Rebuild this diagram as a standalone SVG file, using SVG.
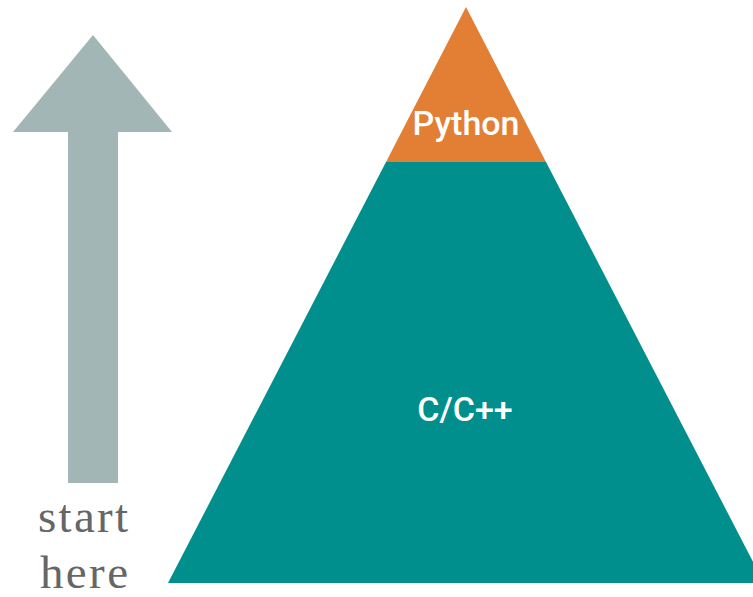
<svg xmlns="http://www.w3.org/2000/svg" width="753" height="597" viewBox="0 0 753 597">
<style>
.lbl{font-family:Roboto,"Liberation Sans",Arial,sans-serif;font-weight:500;fill:#ffffff;text-anchor:middle}
.side{font-family:"Liberation Serif","Times New Roman",serif;fill:#666666;font-size:47px}
</style>
<rect width="753" height="597" fill="#ffffff"/>
<g id="arrow">
<polygon points="93,35 172,132 118,132 118,483 68,483 68,132 13,132" fill="#a3b6b6"/>
</g>
<g id="cpp">
<polygon points="386,162 546,162 764,583 168,583" fill="#008f8c"/>
<text class="lbl" x="465" y="421" font-size="34">C/C++</text>
</g>
<g id="python">
<polygon points="466,7 546,162 386,162" fill="#e27f34"/>
<text class="lbl" x="466" y="135" font-size="34">Python</text>
</g>
<g id="start-label">
<text class="side" x="38" y="532" textLength="90" lengthAdjust="spacing">start</text>
<text class="side" x="40" y="588" textLength="88" lengthAdjust="spacing">here</text>
</g>
</svg>
